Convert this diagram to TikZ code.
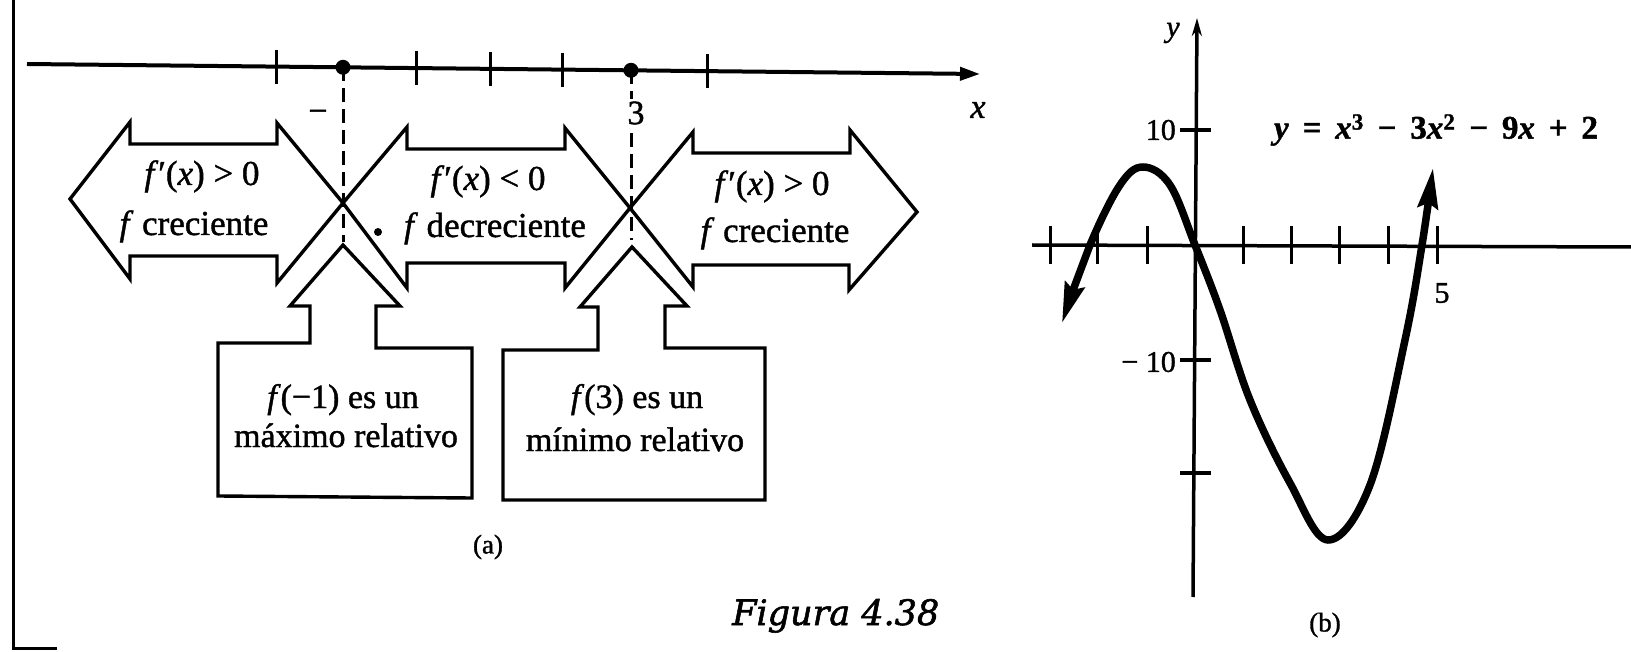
\documentclass[tikz,border=0pt]{standalone}
\usepackage{fontspec}
\setmainfont{Liberation Serif}[FakeBold=1.2]
\newfontfamily\capfont{DejaVu Serif}[FakeBold=1.6]
\usetikzlibrary{arrows.meta}
\newcommand\gsp{\hspace{0.42em}}
\begin{document}
\begin{tikzpicture}[x=1pt,y=-1pt,
  blockshape/.style={draw=black,line width=3.4pt,line join=miter,fill=white},
  arrlbl/.style={inner sep=0pt,anchor=base,font=\fontsize{35}{42}\selectfont},
  boxlbl/.style={inner sep=0pt,anchor=base,font=\fontsize{34}{40}\selectfont},
  glbl/.style={inner sep=0pt,font=\fontsize{30}{36}\selectfont},
  numlbl/.style={inner sep=0pt,font=\fontsize{34}{40}\selectfont},
  dashline/.style={line width=3pt,dash pattern=on 14pt off 7pt},
  tickline/.style={line width=3pt},
  dotnode/.style={circle,fill=black,inner sep=0pt,minimum size=15pt},
]
\useasboundingbox (0,0) rectangle (1631,652);
% frame fragment
\draw[line width=3pt] (13,0) -- (13,648) -- (57,648);

% ---------- (a) number line ----------
\coordinate (nlL) at (27,64);
\coordinate (nlR) at (980,74);
\draw[line width=4pt,-{Triangle[length=20pt,width=13pt]}] (nlL) -- (nlR);
\foreach \t in {276,416,490,562,707}
  \draw[tickline] ({\t},{64+(\t-27)*10/953-17}) -- ++(0,34);
\node[dotnode] (pm1) at (343,67.3) {};
\node[dotnode] (p3) at (631,70.3) {};
\coordinate (dm1) at (343,242);
\coordinate (d3) at (631,240);

% ---------- block arrows ----------
\draw[blockshape] (70,199) -- (130,122) -- (130,144) -- (277,144) -- (277,123) -- (343,203)
  -- (277,283) -- (277,256) -- (130,256) -- (130,279) -- cycle;
\draw[blockshape] (343,203) -- (407,127) -- (407,149) -- (565,149) -- (565,128) -- (630,208)
  -- (565,288) -- (565,263) -- (407,263) -- (407,288) -- cycle;
\draw[blockshape] (630,208) -- (693,132) -- (693,153) -- (850,153) -- (850,130) -- (917,212)
  -- (849,290) -- (849,265) -- (693,265) -- (693,287) -- cycle;

% up arrows with boxes
\draw[blockshape] (343,245) -- (400,306) -- (376,306) -- (376,348) -- (472,348) -- (472,498)
  -- (218,496) -- (218,343) -- (310,343) -- (310,306) -- (290,306) -- cycle;
\draw[blockshape] (632,247) -- (687,306) -- (665,306) -- (665,348) -- (765,348) -- (765,500)
  -- (503,500) -- (503,350) -- (598,350) -- (598,307) -- (580,307) -- cycle;

% dashed verticals
\draw[dashline] (pm1.center) -- (dm1);
\draw[dashline] (p3.center) -- (d3);

\node[numlbl] (lm) at (318,116) {−};
\node[numlbl,fill=white,inner xsep=1pt,inner ysep=3pt] (l3) at (636,113) {3};
\node[numlbl] (lx) at (978,110) {\textit{x}};

% labels in arrows
\node[arrlbl] (a1t) at (202,185) {\textit{f}′(\textit{x}) > 0};
\node[arrlbl] (a1b) at (194,235) {\textit{f} creciente};
\node[arrlbl] (a2t) at (488,190) {\textit{f}′(\textit{x}) < 0};
\node[arrlbl] (a2b) at (495,237) {\textit{f} decreciente};
\node[arrlbl] (a3t) at (772,195) {\textit{f}′(\textit{x}) > 0};
\node[arrlbl] (a3b) at (775,242) {\textit{f} creciente};
\fill (378,232) circle (4pt);

% labels in boxes
\node[boxlbl] (b1t) at (343,408) {\textit{f}(−1) es un};
\node[boxlbl] (b1b) at (346,447) {máximo relativo};
\node[boxlbl] (b2t) at (637,408) {\textit{f}(3) es un};
\node[boxlbl] (b2b) at (635,451) {mínimo relativo};

\node[inner sep=0pt,font=\fontsize{27}{32}\selectfont] (la) at (488,547) {(a)};
\node[anchor=base west,inner sep=0pt,font=\capfont\itshape\fontsize{35}{40}\selectfont] (cap) at (732,625) {Figura 4.38};

% ---------- (b) graph ----------
\coordinate (xa0) at (1032,245);
\coordinate (xa1) at (1631,247);
\coordinate (ya0) at (1193,597);
\coordinate (ya1) at (1197,18);
\draw[line width=3.5pt] (xa0) -- (xa1);
\draw[line width=3.5pt,-{Stealth[length=18pt,width=10pt]}] (ya0) -- (ya1);
\foreach \t in {1050,1097,1147,1243,1291,1339,1388,1437}
  \draw[tickline] (\t,226) -- (\t,264);
\foreach \t in {130,360,473}
  \draw[line width=3.5pt] (1180,\t) -- (1211,\t);
\node[glbl] (gy) at (1173,33) {\textit{y}};
\node[glbl,anchor=east] (g10) at (1176,130) {10};
\node[glbl,anchor=east] (gm10) at (1176,362) {− 10};
\node[glbl] (g5) at (1442,293) {5};
\node[inner sep=0pt,font=\fontsize{33}{38}\selectfont\bfseries] (geq) at (1436,130)
  {\textit{y}\gsp=\gsp\textit{x}\textsuperscript{3}\gsp−\gsp3\textit{x}\textsuperscript{2}\gsp−\gsp9\textit{x}\gsp+\gsp2};
\draw[line width=7.5pt,{Stealth[length=40pt,width=20pt,inset=5pt]}-{Stealth[length=40pt,width=20pt,inset=5pt]}]
  plot[smooth,tension=0.6] coordinates {(1062,323) (1090,245) (1120,185) (1143,167) (1170,185)
  (1195,245) (1220,310) (1250,400) (1290,483) (1328,540) (1370,485) (1405,340) (1422,245) (1433,168)};
\node[inner sep=0pt,font=\fontsize{27}{32}\selectfont] (lb) at (1325,625) {(b)};
\end{tikzpicture}
\end{document}
